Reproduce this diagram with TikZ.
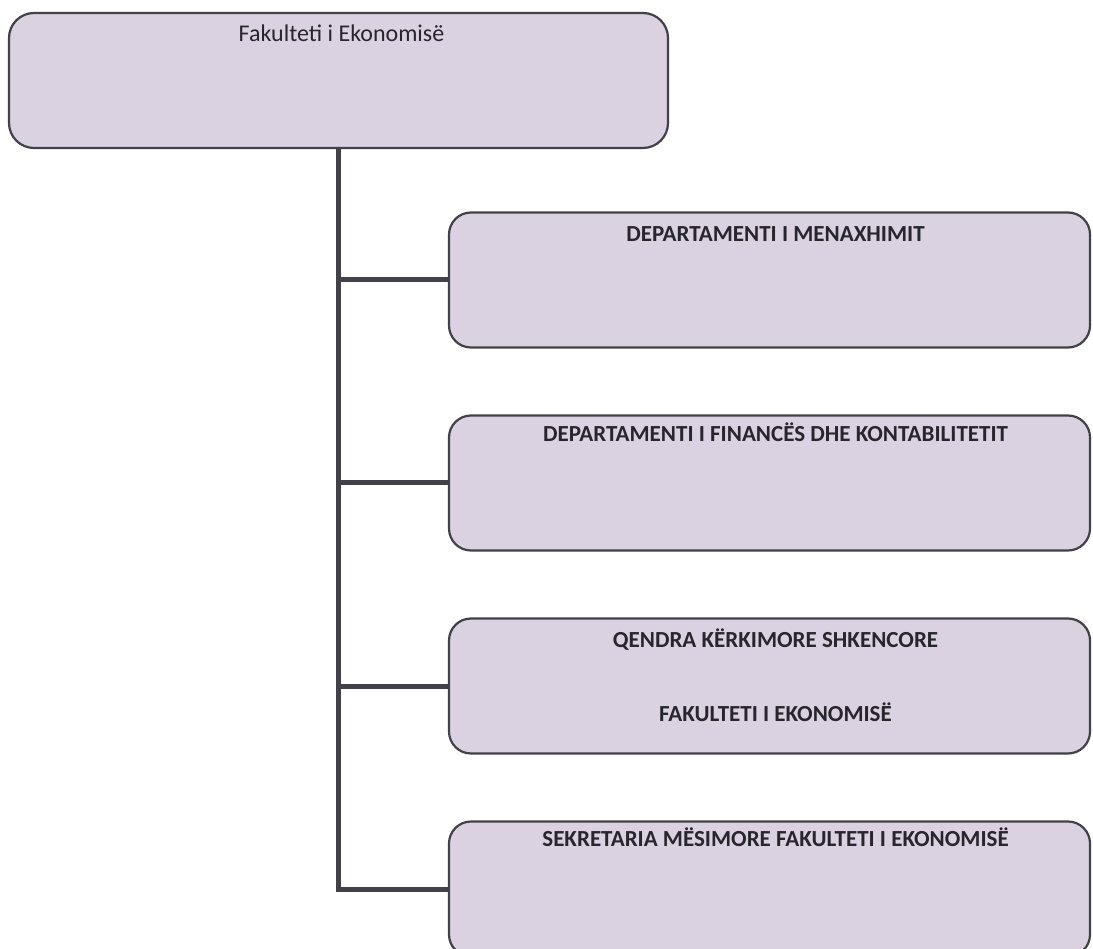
\documentclass[tikz,border=0pt]{standalone}
\usepackage{fontspec}
\setmainfont{Carlito}
\usetikzlibrary{positioning}

\definecolor{boxfill}{RGB}{218,210,225}
\definecolor{boxline}{RGB}{66,64,72}
\definecolor{ink}{RGB}{40,37,44}

\begin{document}
\begin{tikzpicture}[x=1pt, y=1pt, node distance=203pt, on grid,
    unit/.style={rectangle, rounded corners=22pt, draw=boxline, line width=2.2pt, fill=boxfill, minimum width=641pt, minimum height=135pt, inner sep=0pt},
    title/.style={anchor=base, inner sep=0pt, text=ink, xshift=6pt, font=\fontsize{23}{28}\selectfont\bfseries},
    headtitle/.style={title, xshift=-3pt, font=\fontsize{24}{29}\selectfont},
    trunk/.style={draw=boxline, line width=5pt, line join=miter}]
   \useasboundingbox (0,0) rectangle (1093,-949);
   \clip (0,0) rectangle (1093,-949);

   \node[unit, minimum width=659pt, rounded corners=25pt] (fak) at (338.5,-80.5) {};
   \node[unit] (men) [below right=199.5pt and 431pt of fak] {};
   \node[unit] (fin) [below=of men] {};
   \node[unit] (qen) [below=of fin] {};
   \node[unit] (sek) [below=of qen] {};

   \node[headtitle] (tfak)  at ([yshift=-30pt]fak.north) {Fakulteti i Ekonomisë};
   \node[title]     (tmen)  at ([yshift=-30pt]men.north) {DEPARTAMENTI I MENAXHIMIT};
   \node[title]     (tfin)  at ([yshift=-27pt]fin.north) {DEPARTAMENTI I FINANCËS DHE KONTABILITETIT};
   \node[title]     (tqen)  at ([yshift=-30pt]qen.north) {QENDRA KËRKIMORE SHKENCORE};
   \node[title]     (tqen2) at ([yshift=-104pt]qen.north) {FAKULTETI I EKONOMISË};
   \node[title]     (tsek)  at ([yshift=-26pt]sek.north) {SEKRETARIA MËSIMORE FAKULTETI I EKONOMISË};

   \path[trunk] (fak.south) |- (sek.west);
   \path[trunk] (fak.south |- men.west) -- (men.west);
   \path[trunk] (fak.south |- fin.west) -- (fin.west);
   \path[trunk] (fak.south |- qen.west) -- (qen.west);
\end{tikzpicture}
\end{document}
